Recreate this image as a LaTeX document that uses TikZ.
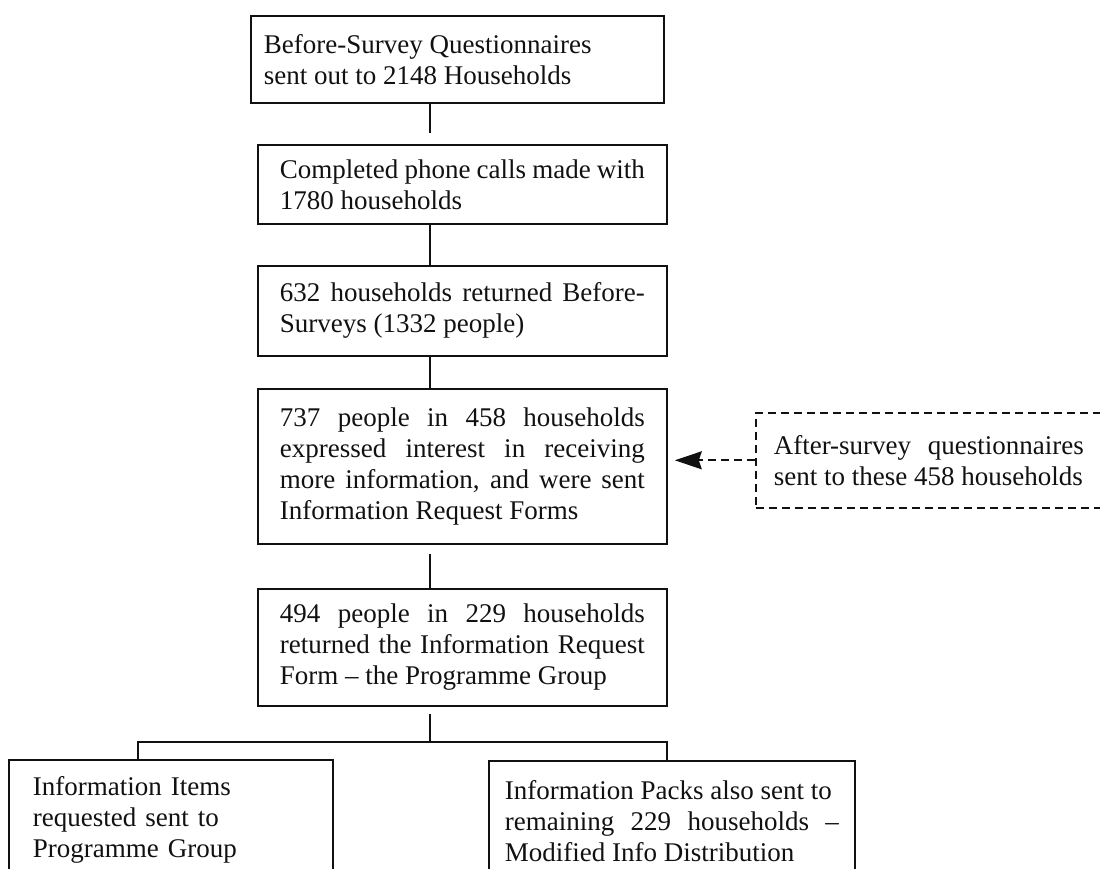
\documentclass[tikz,border=0pt]{standalone}
\usepackage{fontspec}
\setmainfont{Liberation Serif}
\usetikzlibrary{arrows.meta,positioning,calc}
\definecolor{fcInk}{HTML}{111111}
\tikzset{
  box/.style      ={draw=fcInk,line width=1.8pt,anchor=north west,inner ysep=0pt,
                    font=\fontsize{27}{31}\selectfont,text=fcInk},
  stagebox/.style ={box,text width=365pt,inner xsep=22pt,align=justify},
  leafbox/.style  ={box,minimum height=120pt,align=left},
  notebox/.style  ={box,line width=1.6pt,dash pattern=on 8pt off 5pt,text width=310pt,
                    inner xsep=18pt,align=justify,minimum height=95pt},
  link/.style     ={draw=fcInk,line width=1.5pt},
  linkdash/.style ={link,line width=1.7pt,dash pattern=on 8pt off 5pt,
                    -{Stealth[length=27pt,width=18pt,inset=3pt]}},
}
\begin{document}
\begin{tikzpicture}[x=1pt,y=-1pt]
\useasboundingbox (0,0) rectangle (1100,868);

\node[stagebox,text width=387pt,inner xsep=13pt,minimum height=87pt] (b1) at (250,15)
{Before-Survey Questionnaires\\sent out to 2148 Households};
\node[stagebox,minimum height=79pt] (b2) at (257,144)
{Completed phone calls made with\\1780 households};
\node[stagebox,minimum height=90pt] (b3) at (257,265)
{632 households returned Before-\linebreak Surveys (1332 people)};
\node[stagebox,minimum height=155pt] (b4) at (257,388)
{737 people in 458 households\linebreak expressed interest in receiving\linebreak
 more information, and were sent\linebreak Information Request Forms};
\node[stagebox,minimum height=117pt] (b5) at (257,588)
{494 people in 229 households\linebreak returned the Information Request\linebreak
 Form -- the Programme Group};

\node[notebox] (note) at (755,412)
{After-survey questionnaires\linebreak sent to these 458 households};

\node[leafbox,text width=276pt,inner xsep=24pt] (lft) at (8,759)
{Information Items\\requested sent to\\Programme Group};
\node[leafbox,text width=334pt,inner xsep=16pt,align=justify] (rgt) at (488,760)
{Information Packs also sent to\\remaining 229 households --\linebreak Modified Info Distribution};

% spine and fork
\coordinate (spine) at (430,0);
\coordinate (fork) at (430,742);
\draw[link,shorten >=11pt] (b1.south -| spine) -- (b2.north -| spine);
\draw[link] (b2.south -| spine) -- (b3.north -| spine);
\draw[link] (b3.south -| spine) -- (b4.north -| spine);
\draw[link,shorten <=9pt] (b4.south -| spine) -- (b5.north -| spine);
\draw[link,shorten <=7pt] (b5.south -| spine) -- (fork);
\draw[link] (fork) -| ([xshift=-33pt]lft.north);
\draw[link] (fork) -| ([xshift=-5pt]rgt.north);

\draw[linkdash,shorten >=7pt] (note.west) -- (note.west -| b4.east);
\end{tikzpicture}
\end{document}
